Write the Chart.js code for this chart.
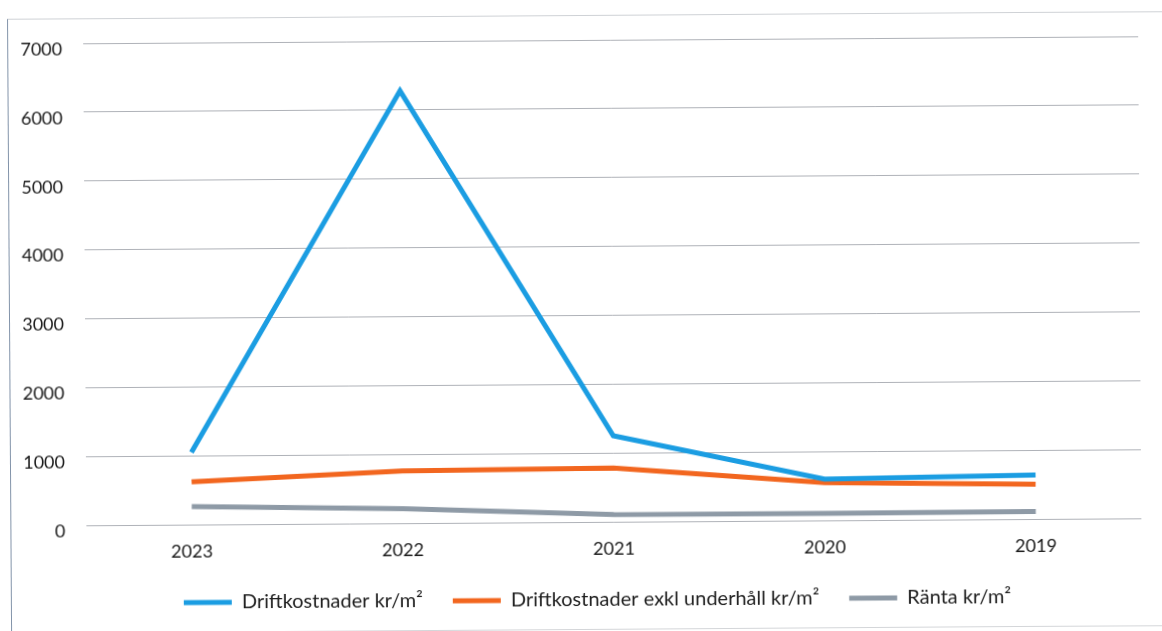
<!DOCTYPE html>
<html lang="sv">
<head>
<meta charset="utf-8">
<title>Driftkostnader</title>
<script src="https://cdn.jsdelivr.net/npm/chart.js@4/dist/chart.umd.min.js"></script>
<style>
  html, body { margin: 0; padding: 0; background: #fff; overflow: hidden; }
  #sheet {
    position: relative;
    width: 1162px;
    height: 631px;
    transform: rotate(-0.38deg);
    transform-origin: 50% 50%;
  }
  #frame {
    position: absolute;
    left: 9px;
    top: 15px;
    width: 1200px;
    height: 615px;
    border-left: 1px solid #8394aa;
    border-top: 1px solid #cfd2d6;
    border-bottom: 1px solid #d4d6d9;
    box-sizing: border-box;
  }
  canvas { position: absolute; left: 0; top: 0; }
</style>
</head>
<body>
<div id="sheet">
  <div id="frame"></div>
  <canvas id="chart" width="1162" height="631"></canvas>
</div>
<script>
// Years, shown newest first
const years = ['2023', '2022', '2021', '2020', '2019'];

// kr per square metre
const driftkostnader = [1050, 6280, 1250, 600, 640];
const driftkostnaderExklUnderhall = [620, 760, 780, 550, 505];
const ranta = [260, 210, 105, 100, 110];

const yTicks = [0, 1000, 2000, 3000, 4000, 5000, 6000, 7000];

const seriesNames = [
  'Driftkostnader kr/m²',
  'Driftkostnader exkl underhåll kr/m²',
  'Ränta kr/m²'
];

const FONT = 'Lato, "Liberation Sans", sans-serif';

function lineSet(label, data, color) {
  return {
    label,
    data,
    borderColor: color,
    backgroundColor: color,
    borderWidth: 5,
    pointRadius: 0,
    pointHoverRadius: 0,
    tension: 0,
    fill: false
  };
}

// Nudge the legend row to the right so it sits centred under the plot.
const legendShift = {
  id: 'legendShift',
  afterLayout(chart) {
    const lg = chart.legend;
    if (lg) { lg.left += 18; lg.right += 18; }
  }
};

new Chart(document.getElementById('chart'), {
  type: 'line',
  data: {
    labels: years,
    datasets: [
      lineSet(seriesNames[0], driftkostnader, '#1b9de2'),
      lineSet(seriesNames[1], driftkostnaderExklUnderhall, '#f2661f'),
      lineSet(seriesNames[2], ranta, '#8e9aa6')
    ]
  },
  plugins: [legendShift],
  options: {
    responsive: false,
    animation: false,
    devicePixelRatio: 1,
    layout: { padding: { left: 15, right: 22, top: 40, bottom: 11 } },
    plugins: {
      tooltip: { enabled: false },
      legend: {
        position: 'bottom',
        labels: {
          boxWidth: 48,
          boxHeight: 5,
          padding: 30,
          color: '#1e1e1e',
          font: { family: FONT, size: 20 },
          generateLabels(chart) {
            return Chart.defaults.plugins.legend.labels.generateLabels(chart)
              .map(item => Object.assign(item, { lineWidth: 0 }));
          }
        }
      }
    },
    scales: {
      x: {
        offset: true,
        grid: { display: false, drawTicks: false },
        border: { display: false },
        ticks: {
          color: '#1a1a1a',
          padding: 16,
          font: { family: FONT, size: 18 }
        },
        afterFit(scale) { scale.height = 38; }
      },
      y: {
        min: yTicks[0],
        max: yTicks[yTicks.length - 1],
        afterBuildTicks(scale) { scale.ticks = yTicks.map(v => ({ value: v })); },
        grid: { color: 'rgba(110,115,125,0.55)', lineWidth: 1, drawTicks: false },
        border: { display: false },
        ticks: {
          color: '#1a1a1a',
          padding: 21,
          labelOffset: 6,
          font: { family: FONT, size: 18 },
          callback: v => String(v)
        },
        afterFit(scale) { scale.width = 70; }
      }
    }
  }
});
</script>
</body>
</html>
